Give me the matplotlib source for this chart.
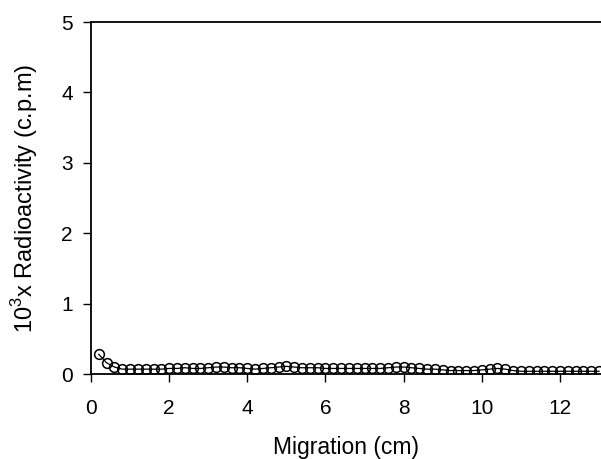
import numpy as np
import matplotlib
matplotlib.use("Agg")
import matplotlib.pyplot as plt

plt.rcParams['font.family'] = ['Liberation Sans', 'DejaVu Sans']
plt.rcParams['mathtext.fontset'] = 'custom'
plt.rcParams['mathtext.rm'] = 'Liberation Sans'

# migration distance (cm) and radioactivity (x10^3 c.p.m)
migration = [0.2, 0.4, 0.6, 0.8, 1.0, 1.2, 1.4, 1.6, 1.8, 2.0,
             2.2, 2.4, 2.6, 2.8, 3.0, 3.2, 3.4, 3.6, 3.8, 4.0,
             4.2, 4.4, 4.6, 4.8, 5.0, 5.2, 5.4, 5.6, 5.8, 6.0,
             6.2, 6.4, 6.6, 6.8, 7.0, 7.2, 7.4, 7.6, 7.8, 8.0,
             8.2, 8.4, 8.6, 8.8, 9.0, 9.2, 9.4, 9.6, 9.8, 10.0,
             10.2, 10.4, 10.6, 10.8, 11.0, 11.2, 11.4, 11.6, 11.8, 12.0,
             12.2, 12.4, 12.6, 12.8, 13.0]
radioactivity = [0.28, 0.16, 0.10, 0.07, 0.07, 0.07, 0.07, 0.07, 0.07, 0.08,
                 0.08, 0.09, 0.08, 0.08, 0.09, 0.10, 0.10, 0.09, 0.09, 0.08,
                 0.07, 0.08, 0.09, 0.10, 0.11, 0.10, 0.09, 0.09, 0.09, 0.08,
                 0.08, 0.08, 0.08, 0.08, 0.08, 0.08, 0.08, 0.09, 0.10, 0.10,
                 0.09, 0.08, 0.07, 0.07, 0.06, 0.05, 0.05, 0.05, 0.05, 0.06,
                 0.07, 0.08, 0.07, 0.05, 0.04, 0.04, 0.04, 0.04, 0.04, 0.04,
                 0.04, 0.04, 0.04, 0.04, 0.04]

fig = plt.figure(figsize=(6.01, 4.59), dpi=100)
ax = fig.add_axes([0.1514, 0.185, 0.8486, 0.767])

ax.plot(migration, radioactivity, color='black', lw=0.9, marker='o',
        ms=7, mfc='none', mec='black', mew=1.1)

ax.set_xlim(0, 13.05)
ax.set_ylim(0, 5)
ax.set_xticks([0, 2, 4, 6, 8, 10, 12])
ax.set_yticks([0, 1, 2, 3, 4, 5])
ax.spines['right'].set_visible(False)
for s in ['left', 'bottom', 'top']:
    ax.spines[s].set_linewidth(1.3)
ax.tick_params(direction='out', length=6, width=1.0, labelsize=15)
ax.tick_params(axis='x', pad=12)
ax.tick_params(axis='y', pad=7)

ax.set_xlabel('Migration (cm)', fontsize=16.5, labelpad=13)
ax.set_ylabel(r'10$^{3}$x Radioactivity (c.p.m)', fontsize=17, labelpad=15)

fig.savefig('out.png', dpi=100)
